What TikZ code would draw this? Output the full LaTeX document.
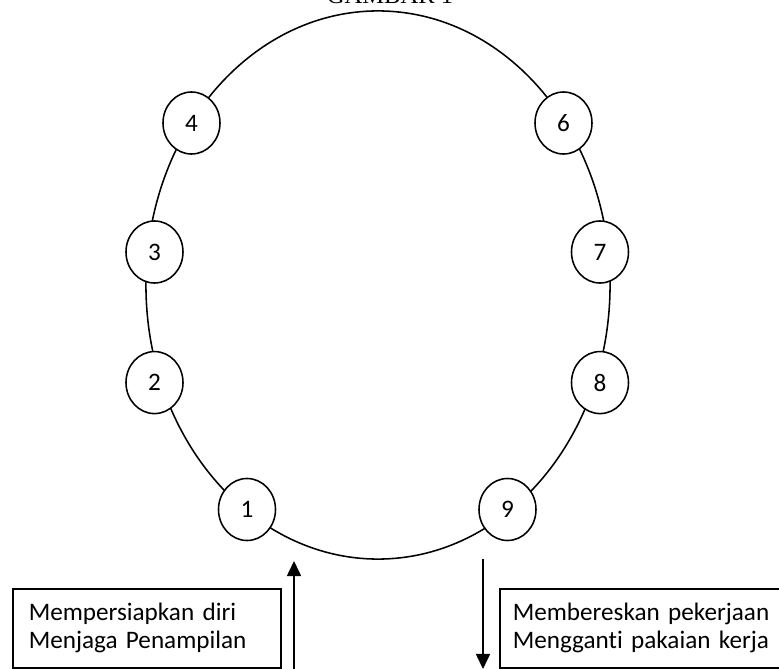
\documentclass[tikz,border=0pt]{standalone}
\usepackage{fontspec}
\setmainfont{Carlito}[Ligatures=NoCommon]
\newfontfamily\titlefont{Liberation Serif}
\usetikzlibrary{shapes.geometric,positioning,arrows.meta}
\tikzset{
thick,
>={Triangle[length=0.375cm,width=0.35cm]},
every node/.style={font=\fontsize{17.9pt}{20pt}\selectfont},
step node/.style={ellipse, draw, line width=1.1pt, fill=white,
  minimum width=1.425cm, minimum height=1.55cm, inner sep=0pt},
note/.style={draw, line width=1.1pt, rectangle, anchor=north west,
  align=left, minimum height=1.975cm, inner xsep=0.4cm},
}

\begin{document}
\begin{tikzpicture}
    [x=0.025cm, y=-0.025cm,
    ring/.style={line width=1.1pt},
    flow/.style={->, line width=1.1pt}
    ]
    \useasboundingbox (0,0) rectangle (779,669);

    \node [anchor=base, font=\titlefont\fontsize{17.5pt}{20pt}\selectfont] (title) at (390,4) {GAMBAR 1};

    \draw[ring] (378,285) ellipse [x radius=5.8cm, y radius=6.85cm];

    \node [step node] (q4) at (191.5,123) {4};
    \node [step node] (q3) at (154.5,252) {3};
    \node [step node] (q2) [below=1.675cm of q3] {2};
    \node [step node] (q1) at (247,509.5) {1};

    \node [step node] (q6) at (563.5,123) {6};
    \node [step node] (q7) at (600,252) {7};
    \node [step node] (q8) [below=1.675cm of q7] {8};
    \node [step node] (q9) at (507.5,509.5) {9};

    \node [note, text width=5.9cm] (prep) at (12,588)
    {
        Mempersiapkan diri
        \\
        Menjaga Penampilan
    };

    \node [note, inner xsep=0.325cm, text width=7cm] (finish) at (499,588)
    {
        Membereskan pekerjaan
        \\
        Mengganti pakaian kerja
    };

    \coordinate (upfoot) at (294,680);
    \coordinate (uptip) at (294,561);
    \coordinate (downtop) at (483,559);
    \coordinate (downtip) at (483,669);

    \draw[flow] (upfoot) -- (uptip);
    \draw[flow] (downtop) -- (downtip);

\end{tikzpicture}
\end{document}
